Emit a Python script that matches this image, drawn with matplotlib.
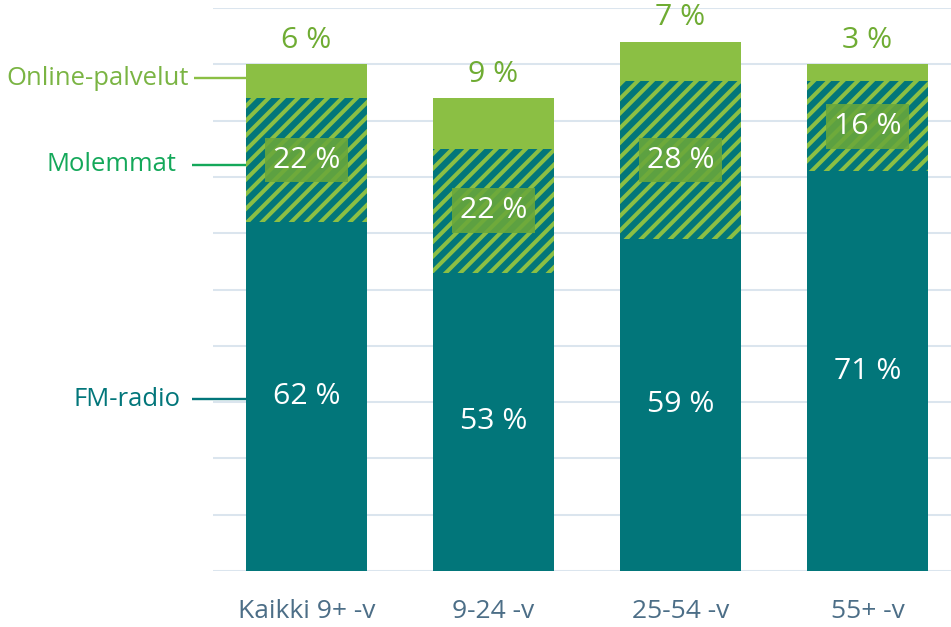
import matplotlib
matplotlib.use("Agg")
import matplotlib.pyplot as plt
import numpy as np

plt.rcParams["font.family"] = ["Open Sans", "DejaVu Sans"]
plt.rcParams["hatch.linewidth"] = 2.2

# data (percent)
groups = ["Kaikki 9+ -v", "9-24 -v", "25-54 -v", "55+ -v"]
fm_radio = [62, 53, 59, 71]
molemmat = [22, 22, 28, 16]
online = [6, 9, 7, 3]
series_names = ["FM-radio", "Molemmat", "Online-palvelut"]

TEAL = "#02767a"
LGREEN = "#8bbf44"
BOXGREEN = "#6aa83a"
TOPTXT = "#6fac33"
MOLTXT = "#14a85a"
TICK = "#4c6e87"
GRID = "#dbe5ee"

DPI = 132
fig = plt.figure(figsize=(951 / DPI, 627 / DPI), dpi=DPI)
ax = fig.add_axes([213 / 951, 56 / 627, 748 / 951, 563 / 627])
ax.set_xlim(-0.5, 3.5)
ax.set_ylim(0, 100)

x = np.arange(len(groups))
w = 0.647
fm = np.array(fm_radio)
mo = np.array(molemmat)
on = np.array(online)

ax.bar(x, fm, w, color=TEAL, linewidth=0, zorder=2)
ax.bar(x, mo, w, bottom=fm, color=TEAL, edgecolor=LGREEN, hatch="///",
       linewidth=0, zorder=2)
ax.bar(x, on, w, bottom=fm + mo, color=LGREEN, linewidth=0, zorder=2)

for v in range(0, 101, 10):
    ax.axhline(v, color=GRID, lw=1.1, zorder=1)

ax.set_xticks(x)
ax.set_xticklabels(groups, fontsize=14.4, color=TICK)
ax.tick_params(axis="x", length=0, pad=15.5)
ax.set_yticks([])
for s in ax.spines.values():
    s.set_visible(False)

fs = 16.5
for i in range(len(groups)):
    ax.text(x[i], fm[i] / 2, f"{fm[i]} %", ha="center", va="center",
            color="white", fontsize=fs, zorder=4)
    ax.text(x[i], fm[i] + mo[i] / 2, f"{mo[i]} %", ha="center", va="center",
            color="white", fontsize=fs, zorder=4,
            bbox=dict(boxstyle="square,pad=0.26", fc=BOXGREEN, ec="none", alpha=0.88))
    ax.annotate(f"{on[i]} %", (x[i], fm[i] + mo[i] + on[i]), xytext=(0, 13),
                textcoords="offset points", ha="center", va="center",
                color=TOPTXT, fontsize=fs, zorder=4)

# series labels on the left, tied to the first bar
label_y = [fm[0] / 2 - 0.5, fm[0] + mo[0] / 2 - 0.8, fm[0] + mo[0] + on[0] / 2 + 0.5]
lab_cols = [TEAL, MOLTXT, "#7ab443"]
line_cols = [TEAL, MOLTXT, LGREEN]
line_x0 = [-0.612, -0.612, -0.602]
text_x = [-0.676, -0.693, -0.628]
for name, yv, tc, lc, lx, tx in zip(series_names, label_y, lab_cols, line_cols,
                                    line_x0, text_x):
    ax.plot([lx, x[0] - w / 2], [yv, yv], color=lc, lw=1.3,
            clip_on=False, zorder=3, solid_capstyle="butt")
    ax.text(tx, yv, name, ha="right", va="center", color=tc, fontsize=14,
            clip_on=False)

fig.savefig("out.png", dpi=DPI, facecolor="white")
